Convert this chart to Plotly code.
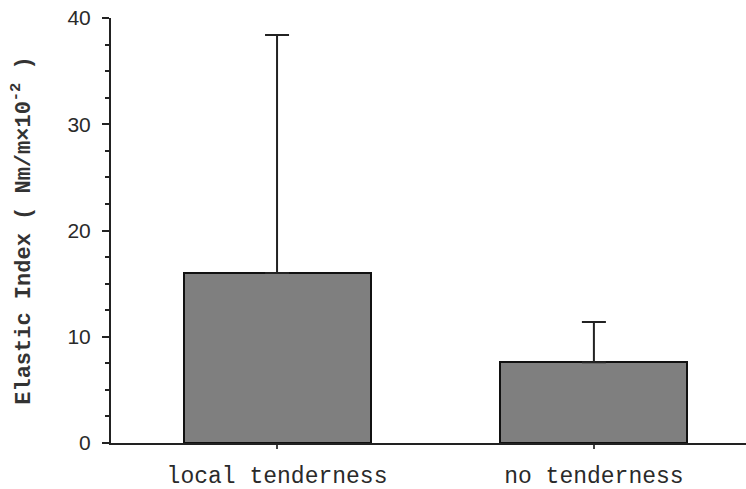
import plotly.graph_objects as go

# Group means and upper standard deviations of the elastic index
categories = ["local tenderness", "no tenderness"]
means = [16.0, 7.6]
sd_upper = [22.4, 3.8]

# Y axis ticks
y_ticks = [0, 10, 20, 30, 40]
y_tick_labels = ["0", "10", "20", "30", "40"]

fig = go.Figure()
fig.add_trace(go.Bar(
    x=categories,
    y=means,
    width=0.59,
    marker=dict(color="#7f7f7f", line=dict(color="#111111", width=2)),
    error_y=dict(type="data", array=sd_upper, arrayminus=[0, 0], symmetric=False,
                 color="#222222", thickness=2, width=12),
    showlegend=False,
))

tick_font = dict(family="Liberation Sans Narrow, Liberation Sans, Arial", size=21, color="#2a2a2a")
label_font = dict(family="Liberation Mono, DejaVu Sans Mono, monospace", size=23, color="#2a2a2a")

fig.update_layout(
    width=746, height=489,
    margin=dict(l=111, r=0, t=18, b=46),
    paper_bgcolor="white", plot_bgcolor="white",
    bargap=0,
    xaxis=dict(
        range=[-0.524, 1.48],
        showline=True, linecolor="#222222", linewidth=2,
        ticks="outside", ticklen=4, tickwidth=1.5, tickcolor="#444444",
        tickfont=label_font, ticklabelstandoff=6,
        showgrid=False, zeroline=False,
    ),
    yaxis=dict(
        range=[0, 40],
        tickvals=y_ticks, ticktext=y_tick_labels,
        showline=True, linecolor="#222222", linewidth=2,
        ticks="outside", ticklen=7, tickwidth=2, tickcolor="#222222",
        tickfont=tick_font, ticklabelstandoff=7,
        minor=dict(dtick=2.5, ticks="outside", ticklen=4, tickwidth=2, tickcolor="#222222"),
        showgrid=False, zeroline=False,
        title=dict(text="<b>Elastic Index ( Nm/m×10<sup>-2</sup> )</b>",
                   font=dict(family="Liberation Mono, DejaVu Sans Mono, monospace", size=22, color="#333333"),
                   standoff=31),
    ),
)

fig.write_html("out.html")
